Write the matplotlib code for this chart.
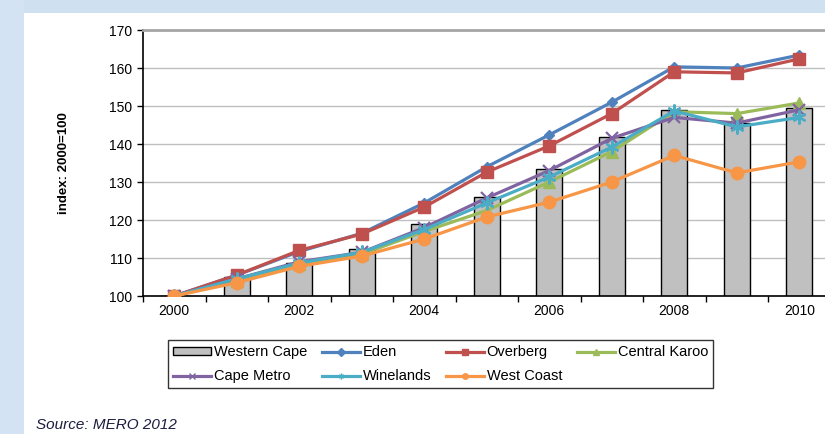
import matplotlib
matplotlib.use("Agg")
import matplotlib.pyplot as plt
from matplotlib.patches import Rectangle, Patch
from matplotlib.lines import Line2D

plt.rcParams['font.family'] = ['Liberation Sans', 'DejaVu Sans']

years = [2000, 2001, 2002, 2003, 2004, 2005, 2006, 2007, 2008, 2009, 2010]
western_cape = [100, 105, 108.7, 112.3, 119, 126, 133.4, 141.8, 149, 145.5, 149.5]
eden = [100, 105.5, 111.7, 116.5, 124.5, 134, 142.4, 151, 160.3, 160, 163.4]
overberg = [100, 105.5, 112, 116.3, 123.4, 132.6, 139.5, 148, 159, 158.7, 162.4]
central_karoo = [100, 104, 108.5, 111, 117, 122.5, 130, 138, 148.5, 148, 150.8]
cape_metro = [100, 104.5, 109, 111.5, 118, 125.8, 133, 141.5, 147, 145.5, 149]
winelands = [100, 104.5, 108.7, 111.5, 117.5, 124.5, 131.3, 139.2, 148.7, 144.5, 147]
west_coast = [100, 103.5, 107.8, 110.5, 115, 120.8, 124.7, 130, 137, 132.4, 135.3]
yticks = [100, 110, 120, 130, 140, 150, 160, 170]
xlabels = ["2000", "", "2002", "", "2004", "", "2006", "", "2008", "", "2010"]

W, H = 825, 434
fig = plt.figure(figsize=(W / 100, H / 100), dpi=100)
fig.patch.set_facecolor('white')

# decorative background strips
fig.add_artist(Rectangle((0, 1 - 13 / H), 1, 13 / H, transform=fig.transFigure,
                         facecolor='#cfe0f1', edgecolor='none', zorder=0))
fig.add_artist(Rectangle((0, 0), 24 / W, 1, transform=fig.transFigure,
                         facecolor='#d3e3f3', edgecolor='none', zorder=0))

x0, x1 = 143, 830.5
y_top, y_bot = 30, 296
ax = fig.add_axes([x0 / W, (H - y_bot) / H, (x1 - x0) / W, (y_bot - y_top) / H])
x = list(range(len(years)))

ax.bar(x, western_cape, width=0.42, bottom=0, color='#c0c0c0', edgecolor='black',
       linewidth=1.0, zorder=2, label='Western Cape')

series = [
    ('Eden', eden, '#4f81bd', 'D', 5),
    ('Overberg', overberg, '#c0504d', 's', 9),
    ('Central Karoo', central_karoo, '#9bbb59', '^', 8),
    ('Cape Metro', cape_metro, '#8064a2', 'x', 8),
    ('Winelands', winelands, '#4bacc6', (6, 2, 0), 10),
    ('West Coast', west_coast, '#f79646', 'o', 9),
]
for i, (name, vals, col, mk, ms) in enumerate(series):
    kw = dict(markeredgewidth=1.6) if mk in ('x', (6, 2, 0)) else {}
    ax.plot(x, vals, color=col, linewidth=2.3, marker=mk, markersize=ms,
            markerfacecolor=col, markeredgecolor=col, zorder=3 + i, **kw)

ax.set_xlim(-0.5, 10.5)
ax.set_ylim(100, 170)
ax.set_yticks(yticks)
ax.set_yticklabels([str(v) for v in yticks], fontsize=10)
ax.yaxis.grid(True, color='#bfbfbf', linewidth=1.0, zorder=0)
ax.set_axisbelow(True)
ax.set_xticks(x)
ax.set_xticklabels(xlabels, fontsize=10)
ax.tick_params(axis='x', which='major', length=0, pad=6)
ax.set_xticks([k + 0.5 for k in range(-1, 11)], minor=True)
ax.tick_params(axis='x', which='minor', length=4, width=1, color='black', direction='out')
ax.tick_params(axis='y', length=4, width=1, direction='out', pad=4)

ax.spines['right'].set_visible(False)
ax.spines['top'].set_color('#a6a6a6')
ax.spines['top'].set_linewidth(2)
ax.spines['left'].set_color('black')
ax.spines['bottom'].set_color('black')
ax.spines['left'].set_linewidth(1.2)
ax.spines['bottom'].set_linewidth(1.2)

ax.set_ylabel('index: 2000=100', fontsize=9.5, fontweight='bold', labelpad=28)

# legend
h_wc = Patch(facecolor='#c0c0c0', edgecolor='black', linewidth=1.0)
handles = {'Western Cape': h_wc}
for name, vals, col, mk, ms in series:
    handles[name] = Line2D([], [], color=col, linewidth=2.3, marker=mk, markersize=4,
                           markerfacecolor=col, markeredgecolor=col)
order = ['Western Cape', 'Cape Metro', 'Eden', 'Winelands', 'Overberg', 'West Coast',
         'Central Karoo']
leg = fig.legend([handles[n] for n in order], order, ncol=4, loc='upper left',
                 bbox_to_anchor=(168 / W, 1 - 340 / H), fontsize=10.5, frameon=True,
                 fancybox=False, edgecolor='black', handlelength=2.6, handleheight=0.45,
                 handletextpad=0.2, columnspacing=1.0, labelspacing=0.7,
                 borderpad=0.35, borderaxespad=0)
leg.get_frame().set_linewidth(1.0)

fig.text(36 / W, 1 - 425 / H, 'Source: MERO 2012', fontsize=11, style='italic',
         color='#1c1c40', va='center', ha='left')

fig.savefig('out.png', dpi=100, facecolor=fig.get_facecolor())
